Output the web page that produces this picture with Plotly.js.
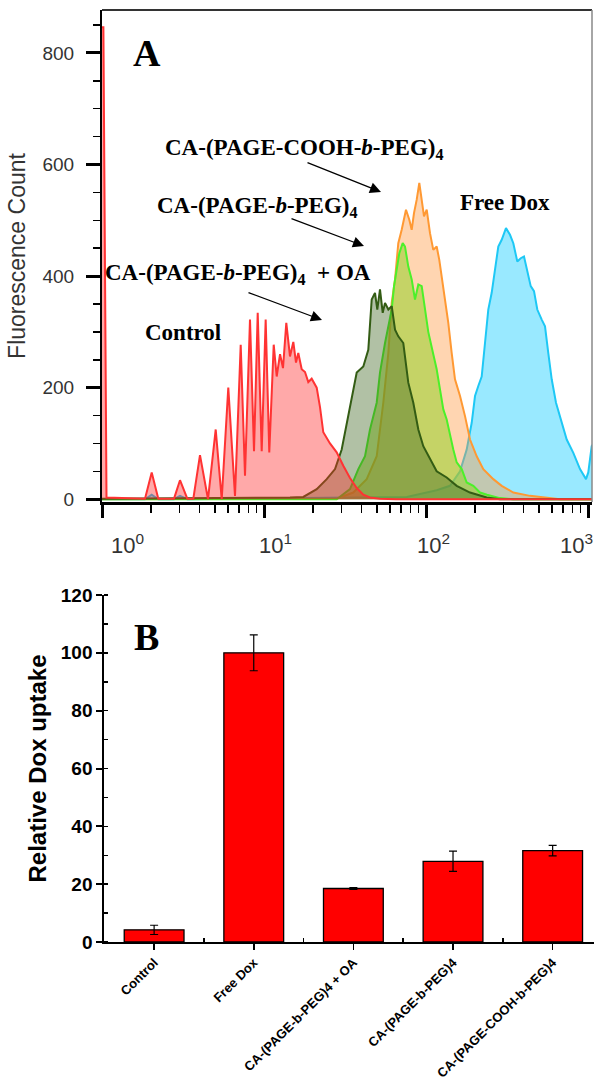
<!DOCTYPE html>
<html>
<head>
<meta charset="utf-8">
<script src="https://cdn.plot.ly/plotly-3.0.1.min.js"></script>
<style>
  html, body { margin: 0; padding: 0; background: #fff; }
  #chart { width: 594px; height: 1084px; }
</style>
</head>
<body>
<div id="chart"></div>
<script>
// ---- Panel A: flow cytometry histograms (fluorescence intensity vs count) ----
const controlX = [1.00, 1.02, 1.066, 1.843, 2.027, 2.226, 2.783, 3.030, 3.362, 3.662, 4.026, 4.512, 5.034, 5.482, 6.020, 6.622, 7.181, 7.633, 8.195, 8.676, 9.145, 9.678, 10.24, 10.78, 11.48, 11.98, 12.56, 13.10, 13.73, 14.47, 15.17, 15.76, 16.28, 17.09, 17.91, 18.77, 19.70, 21.15, 22.17, 23.23, 25.55, 28.10, 30.87, 33.95, 37.35, 41.02, 45.11, 52.00, 65.28, 1070];
const controlY = [846, 846, 3, 1, 48, 1, 1, 34, 1, 1, 79, 0, 125, 0, 200, 6, 277, 42, 322, 86, 334, 86, 322, 84, 277, 220, 260, 235, 316, 256, 282, 245, 262, 233, 228, 210, 216, 200, 165, 120, 100, 84, 60, 38, 20, 8, 3, 1, 0, 0];

const oaX = [1.00, 10.89, 14.47, 17.48, 21.15, 24.38, 27.44, 30.17, 32.40, 34.78, 37.35, 41.02, 44.04, 46.22, 48.43, 50.05, 52.00, 54.05, 55.85, 58.54, 61.43, 64.39, 67.45, 72.41, 77.76, 83.49, 89.66, 96.24, 105.85, 116.4, 134.2, 154.7, 186.9, 237.0, 286.3, 1070];
const oaY = [1, 2, 3, 4, 18, 36, 54, 89, 137, 185, 227, 238, 268, 358, 370, 340, 376, 334, 352, 340, 346, 304, 292, 280, 209, 173, 125, 95, 72, 50, 39, 24, 12, 3, 0, 0];

const pegX = [1.00, 28.10, 33.95, 38.21, 42.03, 45.11, 49.62, 52.00, 55.85, 58.54, 61.43, 63.48, 65.95, 68.43, 71.81, 74.20, 77.76, 81.61, 85.53, 89.66, 94.08, 98.58, 103.3, 110.9, 116.4, 122.0, 127.9, 134.2, 140.7, 147.4, 154.7, 166.1, 178.3, 195.9, 215.4, 237.9, 286.3, 344.4, 1070];
const pegY = [0, 0, 18, 54, 77, 125, 173, 227, 280, 310, 340, 382, 411, 441, 459, 453, 417, 394, 358, 385, 382, 340, 300, 260, 233, 197, 161, 143, 113, 89, 66, 54, 30, 24, 12, 8, 2, 0, 0];

const coohX = [1.00, 28.10, 35.58, 43.05, 49.62, 54.51, 58.54, 61.43, 64.39, 67.45, 70.79, 75.25, 78.87, 81.61, 84.31, 87.62, 90.93, 94.08, 97.21, 101.0, 105.85, 110.9, 116.4, 120.8, 125.0, 131.0, 137.3, 144.1, 151.0, 162.2, 174.1, 186.9, 205.6, 225.8, 260.3, 293.3, 345.9, 438.5, 556.0, 671.7, 1070];
const coohY = [0, 1, 12, 36, 77, 173, 262, 352, 394, 459, 483, 519, 501, 483, 513, 537, 567, 531, 507, 519, 477, 447, 453, 429, 400, 364, 316, 262, 215, 185, 149, 107, 77, 54, 36, 24, 12, 6, 2, 0, 0];

const freeDoxX = [1.00, 1.843, 2.027, 2.226, 2.783, 3.030, 3.362, 76.01, 116.4, 140.7, 162.2, 178.3, 191.5, 200.7, 210.3, 220.7, 231.3, 242.4, 254.4, 266.7, 279.5, 293.3, 311.7, 330.0, 345.9, 366.1, 384.2, 402.6, 421.9, 443.0, 464.2, 486.4, 517.9, 542.8, 568.8, 597.0, 634.6, 688.1, 738.8, 811.6, 892.5, 972.0, 1004, 1054, 1089];
const freeDoxY = [0, 0, 8, 0, 0, 6, 0, 4, 16, 24, 50, 89, 137, 185, 203, 220, 280, 340, 370, 411, 453, 465, 486, 474, 459, 426, 432, 435, 411, 382, 373, 340, 322, 310, 262, 215, 173, 137, 107, 83, 54, 36, 48, 95, 101];

const logTickVals = [1, 10, 100, 1000];
const logTickText = ['10<sup>0</sup>', '10<sup>1</sup>', '10<sup>2</sup>', '10<sup>3</sup>'];
// horizontal nudge of each decade label relative to its tick (px)
const logTickShift = [25, 11, 7, -12];

// ---- Panel B: relative Dox uptake ----
const categories = ['Control', 'Free Dox', 'CA-(PAGE-b-PEG)4 + OA', 'CA-(PAGE-b-PEG)4', 'CA-(PAGE-COOH-b-PEG)4'];
const uptake = [4.2, 100, 18.5, 27.9, 31.6];
const uptakeErr = [1.6, 6.2, 0.3, 3.5, 1.8];

// log-axis minor ticks at 2..9 of each decade
const logMinor = [];
for (let d = 1; d <= 1000; d *= 10) {
  for (let k = 2; k <= 9; k++) logMinor.push(k * d);
}
const catIndex = categories.map((_, i) => i);
const catMid = catIndex.slice(0, -1).map(i => i + 0.5);

function hist(x, y, line, fill, name) {
  return {
    type: 'scatter', mode: 'lines', x: x, y: y, name: name,
    xaxis: 'x', yaxis: 'y',
    line: { color: line, width: 2 },
    fill: 'tozeroy', fillcolor: fill,
    hoverinfo: 'skip', showlegend: false
  };
}

const traces = [
  hist(freeDoxX, freeDoxY, '#1ec8f5', 'rgba(0,200,255,0.40)', 'Free Dox'),
  hist(coohX, coohY, '#ff9933', 'rgba(255,150,60,0.40)', 'CA-(PAGE-COOH-b-PEG)4'),
  hist(pegX, pegY, '#4cf02a', 'rgba(150,210,40,0.55)', 'CA-(PAGE-b-PEG)4'),
  hist(oaX, oaY, '#335c14', 'rgba(60,100,30,0.40)', 'CA-(PAGE-b-PEG)4 + OA'),
  hist(controlX, controlY, '#ff3333', 'rgba(255,40,40,0.40)', 'Control'),
  {
    type: 'bar', x: catIndex, y: uptake, xaxis: 'x2', yaxis: 'y2',
    width: 0.6,
    marker: { color: '#ff0000', line: { color: '#000', width: 1.3 } },
    error_y: { type: 'data', array: uptakeErr, visible: true, color: '#000', thickness: 1.2, width: 4 },
    showlegend: false, hoverinfo: 'skip'
  }
];

// pixel -> paper helpers for text placement
const L = 102, T = 10, W = 492, H = 932;
const fx = px => (px - L) / W;
const fy = py => (T + H - py) / H;

const serif = 'Liberation Serif, Times New Roman, serif';
const sans = 'Liberation Sans, Arial, sans-serif';

function label(text, px, py, size) {
  return {
    xref: 'paper', yref: 'paper', x: fx(px), y: fy(py),
    xanchor: 'left', yanchor: 'middle', showarrow: false,
    text: text, font: { family: serif, size: size, color: '#000', weight: 'bold' }
  };
}
function arrow(hx, hy, tx, ty) {
  return {
    xref: 'paper', yref: 'paper', x: fx(hx), y: fy(hy),
    ax: tx - hx, ay: ty - hy, text: '', showarrow: true,
    arrowhead: 2, arrowsize: 1.7, arrowwidth: 1.3, arrowcolor: '#000', standoff: 0
  };
}

const annotations = [
  label('A', 131, 53, 38),
  label('B', 132, 637, 38),
  label('CA-(PAGE-COOH-<i>b</i>-PEG)<sub>4</sub>', 163, 149, 23),
  label('CA-(PAGE-<i>b</i>-PEG)<sub>4</sub>', 155, 207, 23),
  label('Free Dox', 458, 202, 23),
  label('CA-(PAGE-<i>b</i>-PEG)<sub>4</sub>  + OA', 103, 274, 23),
  label('Control', 143, 332, 23),
  arrow(381, 192, 306, 162),
  arrow(364, 246, 290, 218),
  arrow(322, 320, 247, 292)
];

// decade labels of the log axis, placed on the axis' own scale
logTickVals.forEach((v, i) => {
  annotations.push({
    xref: 'x', yref: 'paper', x: Math.log10(v), y: fy(528),
    xanchor: 'center', yanchor: 'top', xshift: logTickShift[i],
    showarrow: false, text: logTickText[i],
    font: { family: sans, size: 22, color: '#333' }
  });
});

const shapes = [
  { type: 'line', xref: 'x domain', yref: 'y domain', x0: 0, x1: 1, y0: 1, y1: 1, line: { color: '#333', width: 2 } },
  { type: 'line', xref: 'x domain', yref: 'y domain', x0: 1, x1: 1, y0: 0, y1: 1, line: { color: '#888', width: 1.5 } }
];

const layout = {
  width: 594, height: 1084,
  margin: { l: L, r: 0, t: T, b: 1084 - T - H },
  paper_bgcolor: '#fff', plot_bgcolor: 'rgba(0,0,0,0)',
  showlegend: false,
  xaxis: {
    type: 'log', domain: [0, 490 / 492], anchor: 'y', range: [0, 3.0247],
    tickmode: 'array', tickvals: logTickVals, showticklabels: false,
    ticks: 'outside', ticklen: 13, tickwidth: 3, tickcolor: '#000',
    showline: true, linecolor: '#000', linewidth: 2.5,
    showgrid: false, zeroline: false,
    minor: { tickmode: 'array', tickvals: logMinor, ticks: 'outside', ticklen: 8, tickwidth: 1.5, tickcolor: '#000', showgrid: false }
  },
  yaxis: {
    domain: [(942 - 502) / H, 1], anchor: 'x', range: [-5, 877],
    tick0: 0, dtick: 200,
    ticks: 'outside', ticklen: 14, tickwidth: 3, tickcolor: '#000',
    showline: true, linecolor: '#000', linewidth: 2,
    showgrid: false, zeroline: false,
    tickfont: { family: sans, size: 19, color: '#333' },
    ticklabelstandoff: 8,
    minor: { dtick: 50, ticks: 'outside', ticklen: 7, tickwidth: 1.5, tickcolor: '#000', showgrid: false },
    title: { text: 'Fluorescence Count', font: { family: sans, size: 23, color: '#333' }, standoff: 10 }
  },
  xaxis2: {
    domain: [2.3 / 492, 1], anchor: 'y2', range: [-0.5, 4.415],
    tickmode: 'array', tickvals: catIndex, ticktext: categories, tickangle: -45,
    ticks: 'outside', ticklen: 6, tickwidth: 1.5, tickcolor: '#000',
    showline: true, linecolor: '#000', linewidth: 2,
    showgrid: false, zeroline: false,
    tickfont: { family: sans, size: 13, color: '#000', weight: 'bold' },
    minor: { tickmode: 'array', tickvals: catMid, ticks: 'inside', ticklen: 4, tickwidth: 1.5, tickcolor: '#000', showgrid: false }
  },
  xaxis3: {
    domain: [2.3 / 492, 1], anchor: 'y2', overlaying: 'x2', side: 'top', range: [-0.5, 4.415],
    tickmode: 'array', tickvals: catIndex, showticklabels: false,
    ticks: 'inside', ticklen: 3, tickwidth: 1.5, tickcolor: '#333',
    showline: true, linecolor: '#333', linewidth: 2,
    showgrid: false, zeroline: false,
    minor: { tickmode: 'array', tickvals: catMid, ticks: 'inside', ticklen: 7, tickwidth: 1.5, tickcolor: '#333', showgrid: false }
  },
  yaxis2: {
    domain: [0, (942 - 595) / H], anchor: 'x2', range: [0, 120],
    tick0: 0, dtick: 20,
    ticks: 'outside', ticklen: 6, tickwidth: 2, tickcolor: '#000',
    showline: true, linecolor: '#000', linewidth: 2,
    showgrid: false, zeroline: false,
    tickfont: { family: sans, size: 19, color: '#000', weight: 'bold' },
    minor: { dtick: 10, ticks: 'inside', ticklen: 4, tickwidth: 1.5, tickcolor: '#000', showgrid: false },
    title: { text: 'Relative Dox uptake', font: { family: sans, size: 24, color: '#000', weight: 'bold' }, standoff: 7 }
  },
  annotations: annotations,
  shapes: shapes
};

Plotly.newPlot('chart', traces, layout, { staticPlot: true, displayModeBar: false });
</script>
</body>
</html>
